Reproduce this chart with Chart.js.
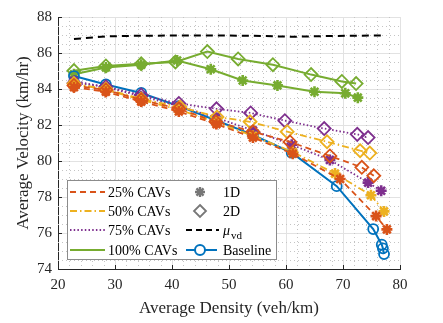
<!DOCTYPE html>
<html><head><meta charset="utf-8">
<script src="https://cdn.jsdelivr.net/npm/chart.js@4/dist/chart.umd.min.js"></script>
<style>html,body{margin:0;padding:0;background:#fff}</style>
</head><body>
<canvas id="c" width="443" height="323"></canvas>
<script>
// ---- data ----
const xMu      = [22.8, 28.4, 34.6, 40.9, 47.5, 54.2, 61.0, 68.9, 75.3, 77.2];
const vMu      = [86.78, 86.92, 86.96, 86.97, 86.97, 86.96, 86.90, 86.95, 86.97, 86.97];

const xGreen1D = [22.8, 28.4, 34.6, 40.9, 46.8, 52.4, 58.5, 65.0, 70.4, 72.6];
const vGreen1D = [84.82, 85.20, 85.35, 85.58, 85.10, 84.47, 84.20, 83.85, 83.76, 83.52];
const xGreen2D = [22.8, 28.4, 34.6, 40.6, 46.2, 51.6, 57.7, 64.4, 69.8, 72.3];
const vGreen2D = [85.02, 85.28, 85.40, 85.50, 86.08, 85.67, 85.35, 84.80, 84.42, 84.30];

const xPurple1D = [22.8, 28.4, 34.6, 41.2, 47.8, 54.2, 61.0, 67.7, 74.4, 76.7];
const vPurple1D = [84.45, 84.10, 83.60, 83.05, 82.40, 81.70, 80.90, 80.06, 78.80, 78.35];
const xPurple2D = [22.8, 28.4, 34.6, 41.2, 47.8, 53.8, 59.8, 66.7, 72.5, 74.4];
const vPurple2D = [84.33, 84.13, 83.67, 83.20, 82.90, 82.67, 82.24, 81.80, 81.48, 81.30];

const xYellow1D = [22.8, 28.4, 34.6, 41.2, 47.8, 54.2, 61.2, 68.6, 74.9, 77.2];
const vYellow1D = [84.30, 83.95, 83.40, 82.85, 82.15, 81.40, 80.50, 79.30, 78.10, 77.20];
const xYellow2D = [22.8, 28.4, 34.6, 41.4, 47.9, 53.7, 60.2, 67.2, 73.0, 74.7];
const vYellow2D = [84.30, 84.00, 83.45, 83.00, 82.45, 82.18, 81.63, 81.07, 80.57, 80.44];

const xOrange1D = [22.8, 28.4, 34.6, 41.2, 47.8, 54.2, 61.2, 69.5, 75.8, 77.7];
const vOrange1D = [84.10, 83.85, 83.30, 82.75, 82.05, 81.30, 80.40, 79.00, 76.94, 76.20];
const xOrange2D = [22.8, 28.4, 34.6, 41.2, 47.7, 54.2, 60.7, 67.7, 73.3, 75.4];
const vOrange2D = [84.20, 83.95, 83.40, 82.90, 82.18, 81.63, 81.06, 80.28, 79.65, 79.18];

const xBase = [22.8, 28.4, 34.6, 41.2, 47.8, 54.2, 61.0, 68.9, 75.3, 76.8, 77.0, 77.2];
const vBase = [84.72, 84.25, 83.78, 83.05, 82.25, 81.45, 80.46, 78.60, 76.22, 75.35, 75.15, 74.83];

const xTicks = [20, 30, 40, 50, 60, 70, 80];
const yTicks = [74, 76, 78, 80, 82, 84, 86, 88];
const legendLeft  = ['25% CAVs', '50% CAVs', '75% CAVs', '100% CAVs'];
const legendRight = ['1D', '2D', 'μ', 'Baseline'];

// ---- styles ----
const C = {blue:'#0072BD', orange:'#D95319', yellow:'#EDB120', purple:'#7E2F8E', green:'#77AC30', black:'#000000'};
const SERIF = '"Liberation Serif", "Times New Roman", serif';
const pts = (xs, ys) => xs.map((x, i) => ({x, y: ys[i]}));

function ds(xs, ys, color, dash, marker, width) {
  const isStar = marker === 'star';
  return {
    data: pts(xs, ys),
    borderColor: color,
    borderWidth: width || 1.8,
    borderDash: dash,
    pointStyle: marker,
    pointRadius: marker === false ? 0 : (isStar ? 5.5 : (marker === 'circle' ? 5 : 6.5)),
    pointBorderWidth: isStar ? 2.6 : 1.8,
    pointBorderColor: color,
    pointBackgroundColor: 'rgba(0,0,0,0)',
    fill: false, tension: 0, showLine: true
  };
}

const DASH = [6, 4], DASHDOT = [7, 3, 1.5, 3], DOT = [1.5, 2.2];
const datasets = [
  ds(xOrange1D, vOrange1D, C.orange, DASH, 'star'),
  ds(xOrange2D, vOrange2D, C.orange, DASH, 'rectRot'),
  ds(xYellow1D, vYellow1D, C.yellow, DASHDOT, 'star'),
  ds(xYellow2D, vYellow2D, C.yellow, DASHDOT, 'rectRot'),
  ds(xPurple1D, vPurple1D, C.purple, DOT, 'star'),
  ds(xPurple2D, vPurple2D, C.purple, DOT, 'rectRot'),
  ds(xBase, vBase, C.blue, [], 'circle', 2),
  ds(xGreen1D, vGreen1D, C.green, [], 'star', 2),
  ds(xGreen2D, vGreen2D, C.green, [], 'rectRot', 2),
  ds(xMu, vMu, C.black, [7, 5], false, 2)
];

// ---- marker helpers for legend ----
function star(ctx, x, y, r, color) {
  ctx.save(); ctx.strokeStyle = color; ctx.lineWidth = 2.4; ctx.setLineDash([]);
  ctx.beginPath();
  for (let k = 0; k < 4; k++) {
    const a = k * Math.PI / 4;
    ctx.moveTo(x - r * Math.cos(a), y - r * Math.sin(a));
    ctx.lineTo(x + r * Math.cos(a), y + r * Math.sin(a));
  }
  ctx.stroke(); ctx.restore();
}
function diamond(ctx, x, y, r, color) {
  ctx.save(); ctx.strokeStyle = color; ctx.lineWidth = 1.8; ctx.setLineDash([]);
  ctx.beginPath(); ctx.moveTo(x, y - r); ctx.lineTo(x + r, y); ctx.lineTo(x, y + r); ctx.lineTo(x - r, y); ctx.closePath();
  ctx.stroke(); ctx.restore();
}

const extras = {
  id: 'extras',
  beforeDatasetsDraw(chart) {
    const {ctx, chartArea: ca, scales: {x, y}} = chart;
    ctx.save();
    ctx.strokeStyle = '#c4c4c4'; ctx.lineWidth = 1; ctx.setLineDash([1, 3]);
    for (let v = 22; v < 80; v += 2) {
      if (v % 10 === 0) continue;
      const px = Math.round(x.getPixelForValue(v)) + 0.5;
      ctx.beginPath(); ctx.moveTo(px, ca.top); ctx.lineTo(px, ca.bottom); ctx.stroke();
    }
    for (let v = 74.5; v < 88; v += 0.5) {
      if (v % 2 === 0) continue;
      const py = Math.round(y.getPixelForValue(v)) + 0.5;
      ctx.beginPath(); ctx.moveTo(ca.left, py); ctx.lineTo(ca.right, py); ctx.stroke();
    }
    // inward major ticks
    ctx.setLineDash([]); ctx.strokeStyle = '#262626';
    xTicks.forEach(v => { const px = Math.round(x.getPixelForValue(v)) + 0.5;
      ctx.beginPath(); ctx.moveTo(px, ca.bottom); ctx.lineTo(px, ca.bottom - 4); ctx.stroke(); });
    yTicks.forEach(v => { const py = Math.round(y.getPixelForValue(v)) + 0.5;
      ctx.beginPath(); ctx.moveTo(ca.left, py); ctx.lineTo(ca.left + 4, py); ctx.stroke(); });
    ctx.restore();
  },
  afterDraw(chart) {
    const {ctx, chartArea: ca} = chart;
    const bx = ca.left + 9, by = ca.bottom - 89, bw = 209, bh = 79;
    ctx.save();
    ctx.fillStyle = '#ffffff'; ctx.fillRect(bx, by, bw, bh);
    ctx.strokeStyle = '#8c8c8c'; ctx.lineWidth = 1; ctx.setLineDash([]);
    ctx.strokeRect(bx + 0.5, by + 0.5, bw, bh);
    const rows = [12, 31, 50, 70].map(d => by + d);
    const leftCols = [[C.orange, DASH], [C.yellow, DASHDOT], [C.purple, DOT], [C.green, []]];
    ctx.font = '14px ' + SERIF; ctx.fillStyle = '#000'; ctx.textBaseline = 'middle'; ctx.textAlign = 'left';
    rows.forEach((ry, i) => {
      ctx.save(); ctx.strokeStyle = leftCols[i][0]; ctx.lineWidth = 1.8; ctx.setLineDash(leftCols[i][1]);
      ctx.beginPath(); ctx.moveTo(bx + 3, ry); ctx.lineTo(bx + 38, ry); ctx.stroke(); ctx.restore();
      ctx.fillText(legendLeft[i], bx + 41, ry + 1);
    });
    const mx = bx + 133, lx0 = bx + 119, lx1 = bx + 150, tx = bx + 156;
    star(ctx, mx, rows[0], 5, '#777777');
    ctx.fillText(legendRight[0], tx, rows[0] + 1);
    diamond(ctx, mx, rows[1], 6, '#777777');
    ctx.fillText(legendRight[1], tx, rows[1] + 1);
    ctx.save(); ctx.strokeStyle = '#000'; ctx.lineWidth = 2; ctx.setLineDash([6, 4]);
    ctx.beginPath(); ctx.moveTo(lx0, rows[2]); ctx.lineTo(lx1 + 2, rows[2]); ctx.stroke(); ctx.restore();
    ctx.font = 'italic 14px ' + SERIF; ctx.fillText(legendRight[2], tx, rows[2] + 1);
    const mw = ctx.measureText(legendRight[2]).width;
    ctx.font = '11px ' + SERIF; ctx.fillText('vd', tx + mw + 1, rows[2] + 6);
    ctx.font = '14px ' + SERIF;
    ctx.save(); ctx.strokeStyle = C.blue; ctx.lineWidth = 2;
    ctx.beginPath(); ctx.moveTo(lx0, rows[3]); ctx.lineTo(lx1, rows[3]); ctx.stroke();
    ctx.beginPath(); ctx.arc(mx, rows[3], 5, 0, Math.PI * 2); ctx.fillStyle = '#fff'; ctx.fill(); ctx.stroke(); ctx.restore();
    ctx.fillText(legendRight[3], tx, rows[3] + 1);
    ctx.restore();
  }
};

new Chart(document.getElementById('c'), {
  type: 'line',
  data: {datasets},
  options: {
    responsive: false, animation: false, devicePixelRatio: 1,
    layout: {padding: {top: 17, right: 43, left: 0, bottom: 0}},
    plugins: {legend: {display: false}, tooltip: {enabled: false}},
    scales: {
      x: {
        type: 'linear', min: 20, max: 80,
        afterBuildTicks: s => { s.ticks = xTicks.map(v => ({value: v})); },
        afterFit: s => { s.height = 54; },
        ticks: {font: {family: SERIF, size: 15}, color: '#262626', padding: 7, maxRotation: 0},
        grid: {color: '#e2e2e2', drawTicks: false},
        border: {color: '#262626'},
        title: {display: true, text: 'Average Density (veh/km)', font: {family: SERIF, size: 17}, color: '#262626', padding: {top: 0}}
      },
      y: {
        type: 'linear', min: 74, max: 88,
        afterBuildTicks: s => { s.ticks = yTicks.map(v => ({value: v})); },
        afterFit: s => { s.width = 58; },
        ticks: {font: {family: SERIF, size: 15}, color: '#262626', padding: 6},
        grid: {color: '#e2e2e2', drawTicks: false},
        border: {color: '#262626'},
        title: {display: true, text: 'Average Velocity (km/hr)', font: {family: SERIF, size: 17}, color: '#262626', padding: {top: 13, bottom: 0}}
      }
    }
  },
  plugins: [extras]
});
</script>
</body></html>
